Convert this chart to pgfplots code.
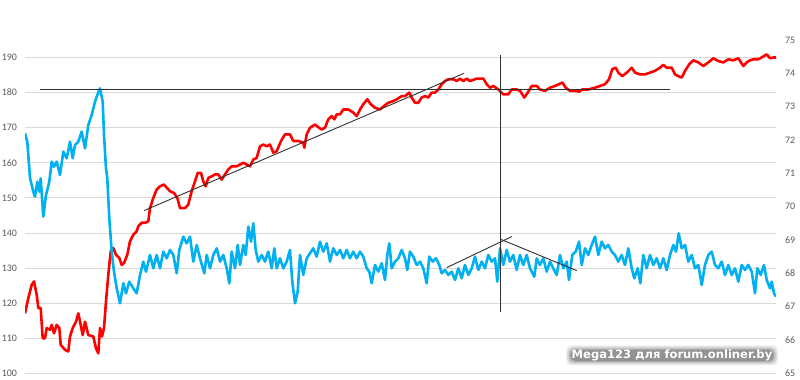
\documentclass[border=0pt]{standalone}
\usepackage{fontspec}
\setmainfont{Carlito}
\newfontfamily\wmfont{DejaVu Sans}
\usepackage{pgfplots}
\pgfplotsset{compat=1.18}
\definecolor{exred}{HTML}{FF0000}
\definecolor{exblue}{HTML}{00B0F0}
\definecolor{gridc}{HTML}{D9D9D9}
\definecolor{tickc}{HTML}{595959}
\definecolor{annot}{HTML}{303030}
\pgfplotsset{
  base/.style={
    at={(0,0)}, anchor=south west,
    scale only axis, width=751bp, height=333.3bp,
    xmin=25, xmax=776,
    axis line style={draw=none},
    major tick length=0pt,
    xtick=\empty,
    /pgf/number format/assume math mode=true,
    yticklabel style={font=\fontsize{10}{12}\selectfont, text=tickc},
  }
}
\begin{document}
\begin{tikzpicture}
\useasboundingbox (-25bp,-6.7bp) rectangle (775bp,373.3bp);
\begin{axis}[base,
  ymin=100, ymax=195,
  ytick={100,110,...,190},
  ymajorgrids, grid style={gridc, line width=0.9bp},
  yticklabel style={xshift=-4.5bp},
]
\addplot[exred, line width=2.6bp, line join=round] coordinates {
(25,117.1)(28.3,121.4)(31.7,125.2)(34,126.2)(36.7,122.4)(38.3,118.6)(40.7,118.6)(42.7,110)(45,110)(46.7,112.9)(50,112.4)(51.7,113.8)(54,111.4)(56.7,113.8)(59.3,112.9)(60.7,108.1)(65,106.7)(68.3,106.2)(70,110.5)(72.7,112.9)(76,114.7)(78.3,117.1)(80.7,113.8)(82.7,110.9)(85,114.7)(88.3,110.9)(93.3,110.5)(96,107.1)(98.3,105.7)(100,112.9)(102,110.5)(104,112.9)(106,120.5)(108.3,128.1)(110.7,134.7)(113.3,135.7)(116,133.8)(119.3,132.9)(121.7,130.9)(124,131.4)(127.3,133.8)(130,137.6)(133.3,139.5)(136.7,140.5)(138.3,141.9)(141.7,142.9)(145,142.9)(148.3,143.3)(150,147.1)(153.3,150)(156.7,152.4)(160,153.3)(164,153.8)(166.7,152.9)(170,151.9)(174,151.4)(177.3,150)(180,147.1)(185,147.1)(188.3,148.1)(191.7,151.9)(195,154.7)(197.7,157.1)(201,157.1)(203.3,154.7)(205.7,153.3)(208.3,155.7)(212.3,156.2)(215,156.7)(218.3,156.7)(221.7,155.2)(225,156.7)(228.3,158.1)(231.7,159)(236.7,159)(240,159.5)(243.3,160)(246.7,159.5)(250,159)(253.3,160.9)(256.7,161.4)(260,164.7)(263.3,165.2)(266.7,164.7)(270,165.2)(273.3,162.9)(276.7,163.3)(281,166.2)(285,168.1)(290,168.1)(293.3,166.2)(298.3,166.2)(303.3,165.7)(304.3,164.3)(306.7,168.1)(310,170)(315,170.9)(319,170)(321.7,169.5)(325,170)(328.3,172.4)(331.7,173.3)(334.3,172.4)(336.7,173.8)(340,173.8)(343.3,175.2)(348.3,175.2)(353.3,174.3)(356.7,173.3)(360,175.2)(363.3,176.7)(367.3,178.1)(370.7,176.7)(375,175.7)(380,175.2)(384,176.2)(388.3,177.1)(393.3,177.6)(396.7,178.1)(401.7,179)(405,179)(409.3,180)(411.7,178.6)(415,177.1)(418.3,177.1)(421.7,178.6)(425,179)(428.3,178.6)(431.7,180)(435,180)(438.3,180.9)(441.7,182.4)(445,183.3)(448.3,183.8)(453.3,183.8)(456.7,183.3)(460,184)(463.3,183.3)(466.7,184)(470,183.3)(476.7,184)(483.3,184)(486.7,182.4)(490,181.4)(493.3,181.9)(498.3,180.9)(503.3,179.5)(508.3,179.5)(511.7,180.9)(516.7,180.9)(520,180.5)(524.3,178.6)(527.7,180)(531.7,181.9)(536.7,181.9)(540,180.9)(545,180.5)(550,181.4)(555,181.9)(559,182.4)(562.3,182.9)(565.7,181.4)(570,180.5)(575,180.5)(579,180.3)(582.3,180.9)(588.3,180.9)(595,181.4)(600,181.9)(605,182.4)(609,183.8)(612.3,186.7)(615.7,187.1)(618.3,185.7)(622.3,184.7)(626.7,185.7)(631.7,187.1)(635,185.7)(640,185.2)(645,185.2)(650,185.7)(655,186.2)(660,187.1)(663.3,187.9)(666.7,187.1)(671.7,187.1)(675,185.2)(678.3,184.7)(681.7,184.3)(685,186.2)(689.3,188.1)(693.3,189.2)(698.3,188.6)(703.3,187.6)(708.3,188.6)(713.3,189.8)(718.3,189)(723.3,188.6)(728.3,189.5)(733.3,189.2)(738.3,189.8)(743.3,187.6)(748.3,189)(753.3,189.5)(758.3,189.5)(762.7,190.2)(766.7,190.9)(770,189.8)(773.3,190)(776,190)
};
\end{axis}
\begin{axis}[base,
  ymin=65, ymax=75,
  ytick={65,66,...,75},
  axis y line*=right,
  yticklabel style={xshift=5.5bp},
]
\addplot[exblue, line width=2.6bp, line join=round] coordinates {
(25,72.2)(27.3,71.95)(30,70.86)(33.3,70.45)(35,70.30)(37.3,70.75)(39.3,70.45)(40.7,70.85)(43.3,69.70)(46,70.35)(49.3,70.75)(51.7,71.35)(54,71.20)(56.7,71.35)(60,70.95)(63.3,71.65)(66.7,71.45)(70,71.95)(72.7,71.45)(75,71.85)(78.3,71.95)(81.7,72.25)(85,71.75)(88.3,72.45)(91.7,72.75)(95,73.15)(97.3,73.35)(100,73.55)(102.7,73.15)(104,72.15)(106,71.15)(107.3,70.85)(109.3,69.65)(111.7,68.65)(114,68.05)(116.7,67.55)(120,67.1)(123.3,67.7)(126,67.4)(129.3,67.75)(133.3,67.55)(136.7,67.4)(140,67.95)(143.3,68.35)(146,68.05)(150,68.55)(153.3,68.15)(156.7,68.55)(160,68.15)(163.3,68.65)(166.7,68.45)(170,68.7)(173.3,68.55)(176.7,68)(179.3,68.7)(183.3,69.1)(186.7,68.9)(190,69.1)(193.3,68.35)(196.7,68.85)(200,68.45)(204.3,68)(206.7,68.55)(210,68.15)(213.3,68.55)(216.7,68.75)(220,68.35)(223.3,68.55)(226.7,68.15)(229.3,67.7)(231.7,68.65)(235,68.15)(237.7,68.85)(240,68.25)(243.3,68.85)(245.7,68.55)(248.3,69.4)(251,68.95)(253.3,69.5)(255.7,68.7)(258.3,68.35)(261.7,68.55)(265,68.35)(268.3,68.65)(271.7,68.15)(274.3,68.75)(276.7,68.15)(280,68.45)(283.3,68.15)(286.7,68.35)(290,68.7)(292.3,67.75)(295,67.1)(297.7,67.45)(300,68.55)(303.3,67.95)(306.7,68.45)(310,68.6)(313.3,68.75)(316.7,68.5)(320,68.95)(323.3,68.65)(326.7,68.9)(330,68.35)(333.3,68.75)(336.7,68.55)(340,68.7)(343.3,68.45)(346.7,68.7)(350,68.45)(353.3,68.65)(356.7,68.45)(360,68.65)(363.3,68.5)(366.7,68.15)(369.3,68.05)(371.7,67.7)(375,68.25)(378.3,68.05)(381.7,68.3)(385,67.8)(387.3,68.55)(389.3,68.9)(391.7,68.15)(395,68.35)(398.3,68.45)(401.7,68.7)(405,68.45)(407.3,68.1)(410,68.65)(413.3,68.5)(416.7,68.25)(420,68.35)(423.3,68.15)(426.7,67.7)(429.3,68.5)(432.7,68.35)(436,68.45)(439.3,68.25)(441.7,68)(445,68.1)(448.3,67.95)(451.7,68.05)(455,67.8)(458.3,68.15)(461.7,67.85)(465,68.25)(468.3,67.95)(471.7,68.15)(475,68.5)(478.3,68.1)(481.7,68.35)(485,68.15)(488.3,68.55)(491.7,68.35)(495,68.45)(497.3,67.75)(500,68.75)(503.3,68.25)(506.7,68.7)(510,68.35)(513.3,68.55)(516.7,68.1)(520,68.55)(523.3,68.25)(526.7,68.55)(530,68.15)(534.3,67.9)(536.7,68.45)(540,68.25)(543.3,68.45)(546.7,68.05)(550,68.35)(553.3,68.15)(556.7,67.95)(560,68.55)(563.3,68.15)(566.7,68.35)(569,67.8)(572.3,68.55)(575.7,68.65)(579,68.95)(581.7,68.25)(585,68.75)(588.3,68.55)(591.7,68.85)(595,69.1)(598.3,68.55)(601.7,68.95)(605,68.75)(608.3,68.85)(611.7,68.65)(615,68.55)(618.3,68.35)(621.7,68.55)(625,68.25)(628.3,68.75)(631.7,68.15)(634.3,67.85)(637.7,68.15)(640.3,67.7)(643.3,68.55)(646.7,68.15)(650,68.55)(653.3,68.25)(656.7,68.45)(660,68.15)(663.3,68.45)(666.7,68.1)(670,68.55)(673.3,68.85)(676,68.65)(678.7,69.2)(681.7,68.75)(685,68.85)(688.3,68.35)(691.7,68.55)(695,68.15)(698.3,68.25)(701.7,67.65)(705,68.25)(708.3,68.55)(711.7,68.65)(715,68.25)(718.3,68.15)(721.7,68.35)(725,67.95)(728.3,68.25)(731.7,67.95)(735,68.15)(738.3,67.75)(741.7,68.25)(745,68.1)(748.3,68.25)(751.7,68.05)(755,67.4)(757.3,68.15)(760.7,67.95)(764,68.25)(766.7,67.8)(770,67.55)(771.7,67.75)(774,67.4)(776,67.3)
};
% annotation lines (in right-axis units)
\addplot[annot, line width=1bp] coordinates {(40,73.5)(670,73.5)};
\addplot[annot, line width=0.9bp] coordinates {(144,69.88)(464,74.0)};
\addplot[annot, line width=1bp] coordinates {(500,74.55)(500,66.85)};
\addplot[annot, line width=0.9bp] coordinates {(446.7,68.17)(511.7,69.1)};
\addplot[annot, line width=0.9bp] coordinates {(500.7,69.02)(576.7,68.08)};
\end{axis}
% watermark: soft dark halo behind white text
\foreach \r/\o in {5/0.06,3.8/0.08,2.6/0.10,1.4/0.13,0.4/0.15}{
  \fill[black, opacity=\o, rounded corners=5bp]
    (546bp-\r bp, 12.8bp-\r bp) rectangle (748bp+\r bp, 23.0bp+\r bp);
}
\node[text=white, font=\wmfont\bfseries\fontsize{11.6}{13}\selectfont, inner sep=0pt]
  at (647bp,17.6bp) {Mega123 для forum.onliner.by};
\end{tikzpicture}
\end{document}
